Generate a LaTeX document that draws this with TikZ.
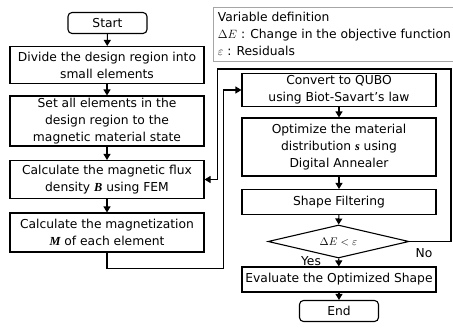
\documentclass[tikz,border=0pt]{standalone}
\usepackage{fontspec}
\setmainfont{DejaVu Sans}
\newfontfamily\varfont{Liberation Serif}
\newcommand{\vecsym}[1]{{\varfont\bfseries\itshape #1}}
\usetikzlibrary{arrows.meta,shapes.geometric}

\begin{document}
\begin{tikzpicture}[x=1pt,y=-1pt,line width=1.1pt,
  every node/.style={font=\fontsize{12.3}{17}\selectfont},
  procbox/.style={draw, align=center, minimum width=194pt, inner sep=1pt},
  termbox/.style={draw, rounded corners=4pt, minimum width=79pt, minimum height=21pt, inner sep=0pt},
  decidebox/.style={draw, diamond, aspect=4, minimum width=141pt, minimum height=33pt, inner sep=0pt},
  flow/.style={-{Triangle[length=6pt,width=7pt]}}]
\useasboundingbox (0,0) rectangle (453,330);
% legend of the symbols
\node[draw=gray!70, line width=0.8pt, align=left, anchor=north west, minimum width=243pt, minimum height=54pt, inner sep=3pt] (vardef) at (212.5,7) {Variable definition\\$\Delta E$ : Change in the objective function\\$\varepsilon$ : Residuals};
% left column
\node[termbox] (start) at (107.5,23) {Start};
\node[procbox, minimum height=37pt] (divide) at (107,65) {Divide the design region into\\small elements};
\node[procbox, minimum height=50pt] (setall) at (107,121) {Set all elements in the\\design region to the\\magnetic material state};
\node[procbox, minimum height=38pt] (flux) at (107,179.5) {Calculate the magnetic flux\\density \vecsym{B} using FEM};
\node[procbox, minimum height=39pt] (mag) at (107,232.5) {Calculate the magnetization\\\vecsym{M} of each element};
% right column
\node[procbox, minimum height=33pt] (convert) at (339,90) {Convert to QUBO\\using Biot-Savart's law};
\node[procbox, minimum height=58pt] (optim) at (339,147) {Optimize the material\\distribution \vecsym{s} using\\Digital Annealer};
\node[procbox, minimum height=25pt] (filter) at (339,202) {Shape Filtering};
\node[decidebox] (check) at (338.5,241.5) {\fontsize{11}{13}\selectfont$\Delta E<\varepsilon$};
\node[procbox, minimum height=25pt] (evaluate) at (339,279.5) {Evaluate the Optimized Shape};
\node[termbox] (finish) at (339,311) {End};
\node (yes) at (311,261) {Yes};
\node (no) at (424,253) {No};
\coordinate (back) at (451,69);
% connectors
\draw[flow] (start) -- (divide);
\draw[flow] (divide) -- (setall);
\draw[flow] (setall) -- (flux);
\draw[flow] (flux) -- (mag);
\draw[flow] (mag.south) -- ++(0,16) -| ([xshift=-18pt]convert.west) -- (convert.west);
\draw[flow] (convert) -- (optim);
\draw[flow] (optim) -- (filter);
\draw[flow] (filter) -- (check);
\draw[flow] (check) -- (evaluate);
\draw[flow] (evaluate) -- (finish);
\draw[flow] (check.east) -| (back) -| ([xshift=13pt]flux.east) -- (flux.east);
\end{tikzpicture}
\end{document}
